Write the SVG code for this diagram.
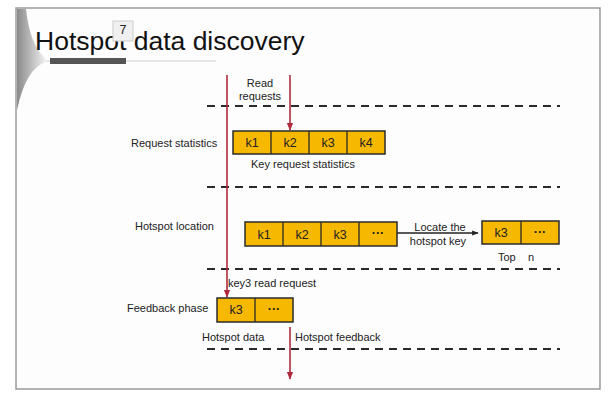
<svg xmlns="http://www.w3.org/2000/svg" width="613" height="401" viewBox="0 0 613 401">
<style>
.t{font-family:"Liberation Sans",Arial,sans-serif;font-size:11px;fill:#222}
.k{font-family:"Liberation Sans",Arial,sans-serif;font-size:12.5px;fill:#222;text-anchor:middle}
.box{fill:#f6b800;stroke:#2a2a2a;stroke-width:1.5}
.dash{stroke:#2a2a2a;stroke-width:2;stroke-dasharray:8,6;fill:none}
.red{stroke:#b02a3c;stroke-width:1.6;fill:none}
</style>
<defs>
<marker id="ar" viewBox="0 0 10 10" refX="9" refY="5" markerWidth="5" markerHeight="5" orient="auto"><path d="M0,1 L10,5 L0,9 z" fill="#b02a3c"/></marker>
<marker id="ab" viewBox="0 0 10 10" refX="9" refY="5" markerWidth="5" markerHeight="5" orient="auto"><path d="M0,1 L10,5 L0,9 z" fill="#222"/></marker>
<linearGradient id="sw" x1="0" y1="0" x2="1" y2="0"><stop offset="0" stop-color="#8a8a8a"/><stop offset="1" stop-color="#f2f2f2"/></linearGradient>
</defs>
<rect x="0" y="0" width="613" height="401" fill="#fff"/>
<rect x="16" y="8" width="584" height="381" fill="#fdfdfe" stroke="#9a9a9a" stroke-width="1.5"/>
<g id="decor">
<path d="M17,9 L26,9 Q30,45 45,58 L46,62 Q26,68 17,110 Z" fill="url(#sw)"/>
<rect x="46" y="60" width="170" height="2" fill="#e6e6e6"/>
<rect x="50" y="58" width="76" height="6" fill="#555"/>
</g>
<g id="title">
<text x="35" y="50" font-family="Liberation Sans,Arial,sans-serif" font-size="26.5" fill="#111">Hotspot data discovery</text>
<rect x="113" y="21" width="20" height="20" fill="#f0f0f0" stroke="#ccc" stroke-width="1"/>
<text x="123" y="34" class="k" font-size="11">7</text>
</g>
<g id="dashes">
<line class="dash" x1="207" y1="106" x2="560" y2="106"/>
<line class="dash" x1="207" y1="187" x2="560" y2="187"/>
<line class="dash" x1="207" y1="269" x2="560" y2="269"/>
<line class="dash" x1="207" y1="349" x2="560" y2="349"/>
</g>
<g id="connectors">
<line class="red" x1="227" y1="75" x2="227" y2="297" marker-end="url(#ar)"/>
<line class="red" x1="290" y1="75" x2="290" y2="130" marker-end="url(#ar)"/>
<line class="red" x1="290" y1="327" x2="290" y2="379" marker-end="url(#ar)"/>
<line x1="397" y1="233" x2="478" y2="233" stroke="#222" stroke-width="1.3" marker-end="url(#ab)"/>
</g>
<g id="read-requests">
<text class="t" x="260" y="87" text-anchor="middle">Read</text>
<text class="t" x="260" y="100" text-anchor="middle">requests</text>
</g>
<g id="request-statistics">
<text class="t" x="131" y="147">Request statistics</text>
<rect class="box" x="233" y="131" width="152" height="23"/>
<line x1="271" y1="131" x2="271" y2="154" stroke="#2a2a2a" stroke-width="1.3"/>
<line x1="309" y1="131" x2="309" y2="154" stroke="#2a2a2a" stroke-width="1.3"/>
<line x1="347" y1="131" x2="347" y2="154" stroke="#2a2a2a" stroke-width="1.3"/>
<text class="k" x="252" y="147">k1</text>
<text class="k" x="290" y="147">k2</text>
<text class="k" x="328" y="147">k3</text>
<text class="k" x="366" y="147">k4</text>
<text class="t" x="303" y="168" text-anchor="middle">Key request statistics</text>
</g>
<g id="hotspot-location">
<text class="t" x="135" y="230">Hotspot location</text>
<rect class="box" x="245" y="222" width="152" height="24"/>
<line x1="283" y1="222" x2="283" y2="246" stroke="#2a2a2a" stroke-width="1.3"/>
<line x1="321" y1="222" x2="321" y2="246" stroke="#2a2a2a" stroke-width="1.3"/>
<line x1="359" y1="222" x2="359" y2="246" stroke="#2a2a2a" stroke-width="1.3"/>
<text class="k" x="264" y="239">k1</text>
<text class="k" x="302" y="239">k2</text>
<text class="k" x="340" y="239">k3</text>
<text class="k" x="378" y="237" font-weight="bold">···</text>
<text class="t" x="440" y="231" text-anchor="middle">Locate the</text>
<text class="t" x="438" y="245" text-anchor="middle">hotspot key</text>
</g>
<g id="top-n">
<rect class="box" x="482" y="221" width="77" height="23"/>
<line x1="521" y1="221" x2="521" y2="244" stroke="#2a2a2a" stroke-width="1.3"/>
<text class="k" x="501" y="237">k3</text>
<text class="k" x="540" y="236" font-weight="bold">···</text>
<text class="t" x="498" y="261">Top</text>
<text class="t" x="528" y="261">n</text>
</g>
<g id="feedback-phase">
<text class="t" x="228" y="287">key3 read request</text>
<text class="t" x="127" y="312">Feedback phase</text>
<rect class="box" x="217" y="298" width="76" height="24"/>
<line x1="255" y1="298" x2="255" y2="322" stroke="#2a2a2a" stroke-width="1.3"/>
<text class="k" x="236" y="314">k3</text>
<text class="k" x="274" y="313" font-weight="bold">···</text>
<text class="t" x="202" y="341" font-size="10.5">Hotspot data</text>
<text class="t" x="295" y="341">Hotspot feedback</text>
</g>
</svg>
